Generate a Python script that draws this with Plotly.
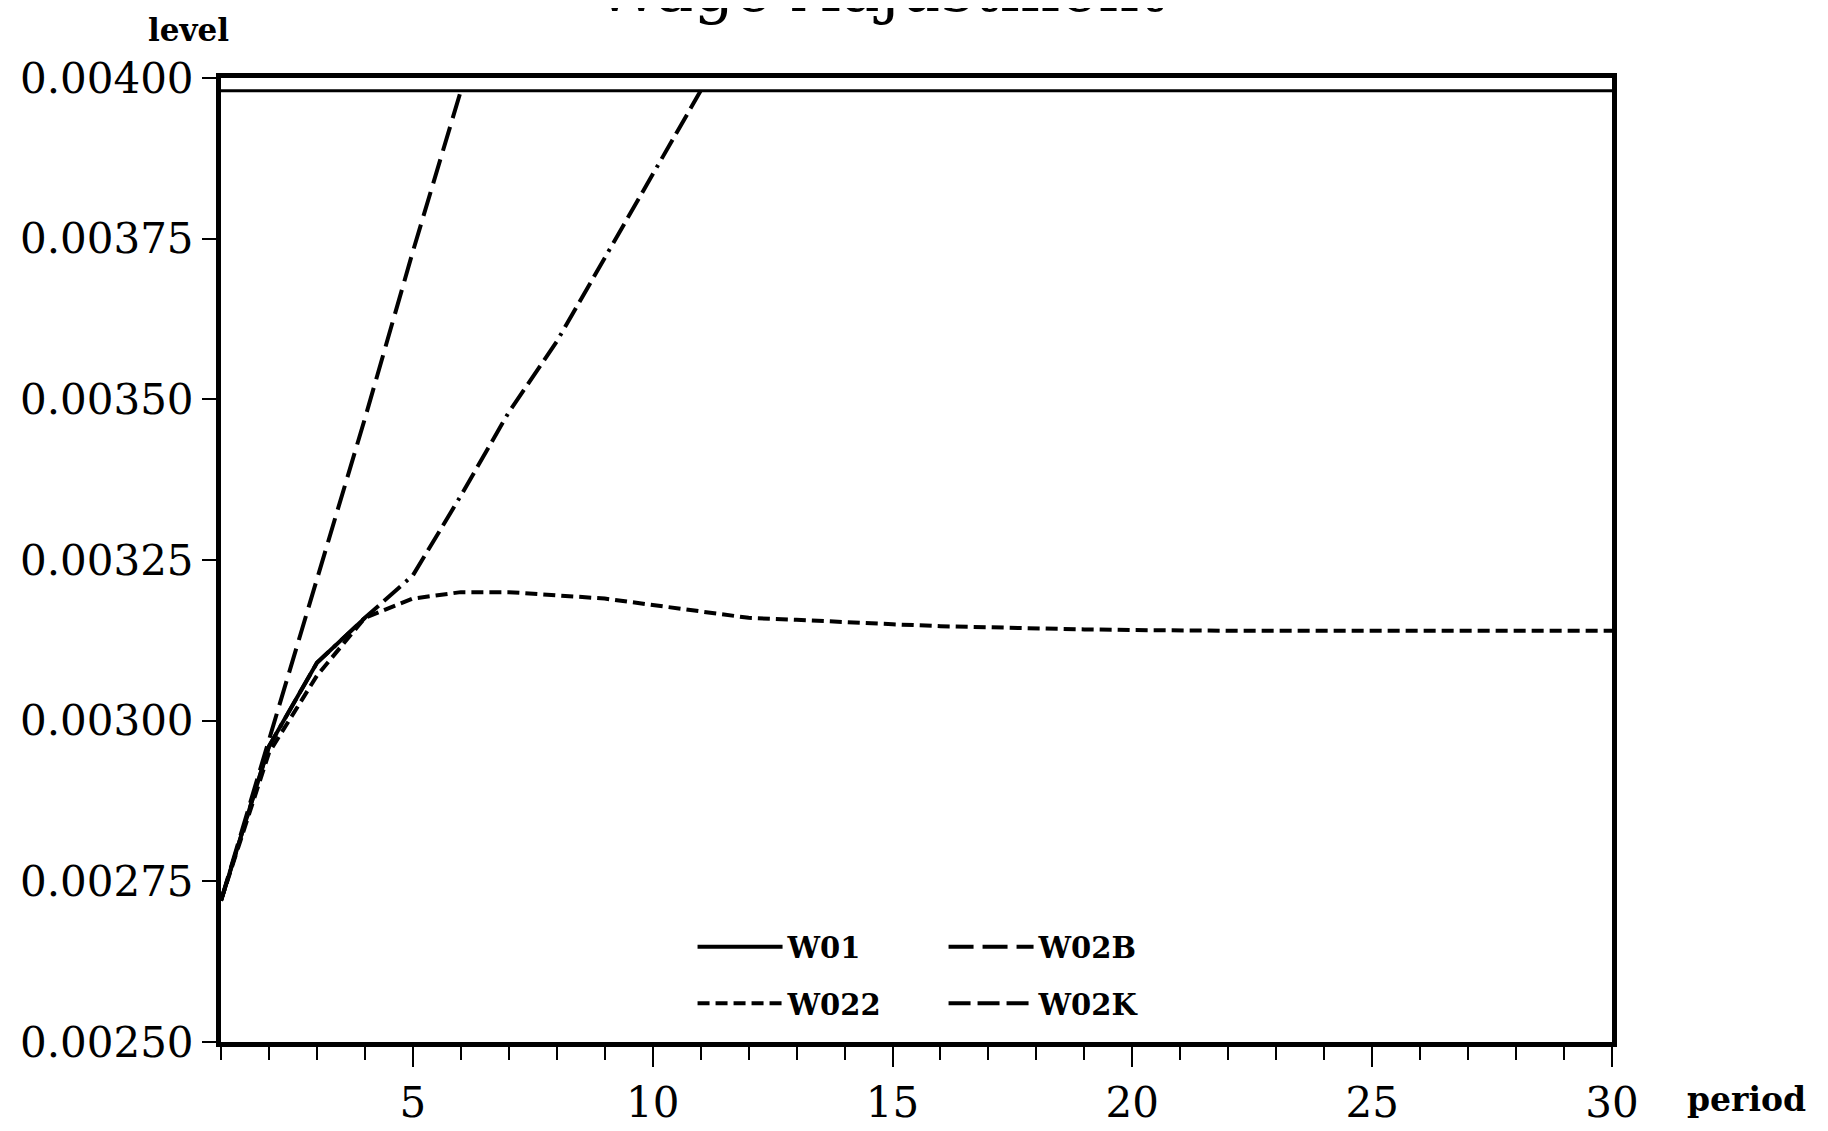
import plotly.graph_objects as go

# ---- data ----
period_w01 = [1, 2, 3, 4]
w01 = [0.00272, 0.00296, 0.00309, 0.00316]

period_w02b = [1, 2, 3, 4, 5, 6]
w02b = [0.00272, 0.00297, 0.00322, 0.00347, 0.00373, 0.00398]

period_w022 = list(range(1, 31))
w022 = [0.00272, 0.00295, 0.00307, 0.00316, 0.00319, 0.00320, 0.00320, 0.003195,
        0.00319, 0.00318, 0.00317, 0.00316, 0.003157, 0.003153, 0.00315, 0.003147,
        0.003145, 0.003143, 0.003142, 0.003141, 0.00314, 0.00314, 0.00314, 0.00314,
        0.00314, 0.00314, 0.00314, 0.00314, 0.00314, 0.00314]

period_w02k = [1, 2, 3, 4, 5, 6, 7, 8, 9, 10, 11]
w02k = [0.00272, 0.00296, 0.00309, 0.00316, 0.003226, 0.00335, 0.00348,
        0.00359, 0.00372, 0.00385, 0.00398]

clip_level = 0.00398
x_ticks = [5, 10, 15, 20, 25, 30]
y_ticks = [0.0025, 0.00275, 0.003, 0.00325, 0.0035, 0.00375, 0.004]
y_tick_text = ["0.00250", "0.00275", "0.00300", "0.00325", "0.00350", "0.00375", "0.00400"]

SERIF = "DejaVu Serif"

fig = go.Figure()
fig.add_trace(go.Scatter(x=period_w01, y=w01, mode="lines", name="W01", legend="legend",
                         line=dict(color="black", width=4, dash="solid")))
fig.add_trace(go.Scatter(x=period_w02b, y=w02b, mode="lines", name="W02B", legend="legend",
                         line=dict(color="black", width=4, dash="25px,9px")))
fig.add_trace(go.Scatter(x=period_w022, y=w022, mode="lines", name="W022", legend="legend2",
                         line=dict(color="black", width=4, dash="12px,6px")))
fig.add_trace(go.Scatter(x=period_w02k, y=w02k, mode="lines", name="W02K", legend="legend2",
                         line=dict(color="black", width=4,
                                   dash="22px,7px,22px,7px,22px,7px,3px,7px")))

fig.add_shape(type="line", xref="paper", yref="y", x0=0, x1=1, y0=clip_level, y1=clip_level,
              line=dict(color="black", width=3))

legend_font = dict(family=SERIF, size=29, color="black", weight="bold")
fig.update_layout(
    width=1828, height=1131,
    margin=dict(l=204, r=224, t=70, b=87),
    paper_bgcolor="white", plot_bgcolor="white",
    showlegend=True,
    legend=dict(orientation="h", x=0.339, y=0.0987, xanchor="left", yanchor="middle",
                itemwidth=85, entrywidth=151, font=legend_font, bgcolor="rgba(0,0,0,0)"),
    legend2=dict(orientation="h", x=0.339, y=0.0401, xanchor="left", yanchor="middle",
                 itemwidth=85, entrywidth=151, font=legend_font, bgcolor="rgba(0,0,0,0)"),
    xaxis=dict(range=[1, 30], tickmode="array", tickvals=x_ticks,
               ticks="outside", ticklen=20, tickwidth=2, tickcolor="black",
               showline=True, linewidth=5, linecolor="black", mirror=True,
               showgrid=False, zeroline=False,
               tickfont=dict(family=SERIF, size=42, color="black"),
               minor=dict(dtick=1, tick0=0, ticks="outside", ticklen=13, tickwidth=2,
                          tickcolor="black", showgrid=False)),
    yaxis=dict(range=[0.0025, 0.004], tickmode="array", tickvals=y_ticks, ticktext=y_tick_text,
               ticks="outside", ticklen=14, tickwidth=2, tickcolor="black",
               showline=True, linewidth=5, linecolor="black", mirror=True,
               showgrid=False, zeroline=False,
               tickfont=dict(family=SERIF, size=42, color="black")),
    annotations=[
        dict(text="Wage Adjustment", xref="paper", yref="paper", x=0.474, y=1.0514,
             xanchor="center", yanchor="bottom", showarrow=False,
             font=dict(family=SERIF, size=64, color="black")),
        dict(text="level", xref="paper", yref="paper", x=-0.0236, y=1.0494,
             xanchor="center", yanchor="middle", showarrow=False,
             font=dict(family=SERIF, size=31, color="black", weight="bold")),
        dict(text="period", xref="paper", yref="paper", x=1.097, y=-0.0597,
             xanchor="center", yanchor="middle", showarrow=False,
             font=dict(family=SERIF, size=33, color="black", weight="bold")),
    ],
)

fig.write_html("out.html")
